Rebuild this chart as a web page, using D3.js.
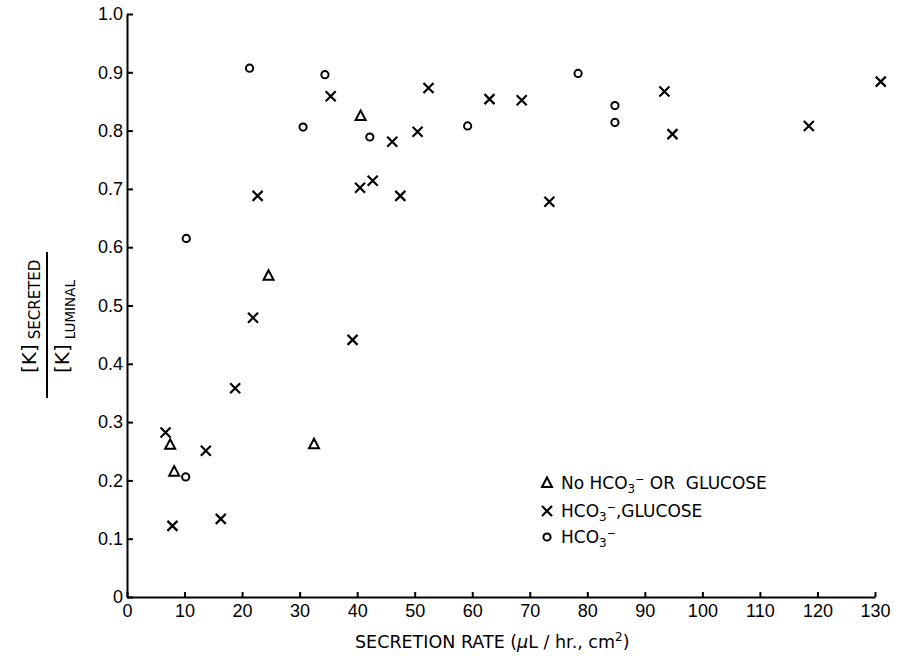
<!DOCTYPE html>
<html>
<head>
<meta charset="utf-8">
<script src="https://cdn.jsdelivr.net/npm/d3@7"></script>
<style>
  body { margin: 0; background: #fff; }
  svg { display: block; font-family: "DejaVu Sans", sans-serif; }
  .axis path, .axis line { stroke: #000; stroke-width: 2; }
  .axis text { fill: #000; font-size: 18px; }
</style>
</head>
<body>
<svg width="898" height="656"></svg>
<script>
// tick values
var xTicks = [0, 10, 20, 30, 40, 50, 60, 70, 80, 90, 100, 110, 120, 130];
var yTicks = [0, 0.1, 0.2, 0.3, 0.4, 0.5, 0.6, 0.7, 0.8, 0.9, 1.0];

// triangles : no HCO3-, no glucose
var noneX = [40.6, 24.6, 7.5, 8.2, 32.5];
var noneY = [0.825, 0.551, 0.261, 0.215, 0.262];

// crosses : HCO3- + glucose
var glucX = [35.4, 46.1, 50.5, 52.4, 63.0, 40.5, 42.7, 47.5, 22.7, 21.9, 39.2,
             68.6, 93.4, 94.8, 73.4, 118.5, 131.0, 18.8, 6.7, 13.7, 7.9, 16.3];
var glucY = [0.859, 0.781, 0.798, 0.873, 0.854, 0.702, 0.714, 0.688, 0.688, 0.479, 0.441,
             0.852, 0.867, 0.794, 0.678, 0.808, 0.884, 0.358, 0.282, 0.251, 0.122, 0.134];

// circles : HCO3- only
var bicX = [21.3, 34.4, 30.6, 42.2, 59.2, 10.3, 78.4, 84.8, 84.8, 10.2];
var bicY = [0.907, 0.896, 0.806, 0.789, 0.808, 0.615, 0.898, 0.843, 0.814, 0.206];

var svg = d3.select("svg");

var x = d3.scaleLinear().domain([0, 130]).range([127, 875]);
var y = d3.scaleLinear().domain([0, 1]).range([597, 14]);

svg.append("g")
  .attr("class", "axis")
  .attr("transform", "translate(0,597)")
  .call(d3.axisBottom(x).tickValues(xTicks).tickSizeInner(-5).tickSizeOuter(0).tickPadding(7)
    .tickFormat(d3.format("d")));

svg.append("g")
  .attr("class", "axis")
  .attr("transform", "translate(127,0)")
  .call(d3.axisLeft(y).tickValues(yTicks).tickSizeInner(-6).tickSizeOuter(0).tickPadding(4)
    .tickFormat(function(d) { return d === 0 ? "0" : d3.format(".1f")(d); }));

svg.selectAll(".axis .domain").attr("fill", "none");

// markers
function tri(g, cx, cy) {
  g.append("path")
    .attr("d", "M" + cx + "," + (cy - 5.5) + "L" + (cx + 5) + "," + (cy + 4) + "L" + (cx - 5) + "," + (cy + 4) + "Z")
    .attr("fill", "none").attr("stroke", "#000").attr("stroke-width", 2);
}
function cross(g, cx, cy) {
  g.append("path")
    .attr("d", "M" + (cx - 5) + "," + (cy - 5) + "L" + (cx + 5) + "," + (cy + 5) +
               "M" + (cx + 5) + "," + (cy - 5) + "L" + (cx - 5) + "," + (cy + 5))
    .attr("fill", "none").attr("stroke", "#000").attr("stroke-width", 2.2);
}
function circ(g, cx, cy) {
  g.append("circle").attr("cx", cx).attr("cy", cy).attr("r", 3.6)
    .attr("fill", "none").attr("stroke", "#000").attr("stroke-width", 2);
}

var pts = svg.append("g");
noneX.forEach(function(v, i) { tri(pts, x(v), y(noneY[i])); });
glucX.forEach(function(v, i) { cross(pts, x(v), y(glucY[i])); });
bicX.forEach(function(v, i) { circ(pts, x(v), y(bicY[i])); });

// x axis title
svg.append("text")
  .attr("x", 355).attr("y", 648)
  .attr("font-size", 17.5)
  .html('SECRETION RATE (<tspan font-style="italic">μ</tspan>L / hr., cm<tspan font-size="12" dy="-7">2</tspan><tspan dy="7">)</tspan>');

// y axis title (fraction)
var num = svg.append("text")
  .attr("transform", "translate(36,373) rotate(-90)")
  .attr("font-size", 20);
num.append("tspan").text("[K]");
num.append("tspan").attr("dx", 5).attr("dy", 4).attr("font-size", 15).text("SECRETED");

svg.append("line")
  .attr("x1", 47).attr("x2", 47).attr("y1", 252).attr("y2", 398)
  .attr("stroke", "#000").attr("stroke-width", 2);

var den = svg.append("text")
  .attr("transform", "translate(69,373) rotate(-90)")
  .attr("font-size", 20);
den.append("tspan").text("[K]");
den.append("tspan").attr("dx", 5).attr("dy", 6).attr("font-size", 13.5).text("LUMINAL");

// legend
var leg = svg.append("g");
tri(leg, 547, 483);
cross(leg, 547, 511);
circ(leg, 547, 537);

function hco(t) {
  t.append("tspan").text("HCO");
  t.append("tspan").attr("font-size", 12).attr("dy", 4).text("3");
  t.append("tspan").attr("font-size", 11).attr("dy", -10).text("−");
}
var t1 = leg.append("text").attr("x", 561).attr("y", 489).attr("font-size", 17);
t1.append("tspan").text("No ");
hco(t1);
t1.append("tspan").attr("dy", 6).attr("xml:space", "preserve").text(" OR  GLUCOSE");

var t2 = leg.append("text").attr("x", 561).attr("y", 517).attr("font-size", 17);
hco(t2);
t2.append("tspan").attr("dy", 6).text(",GLUCOSE");

var t3 = leg.append("text").attr("x", 561).attr("y", 543).attr("font-size", 17);
hco(t3);
</script>
</body>
</html>
